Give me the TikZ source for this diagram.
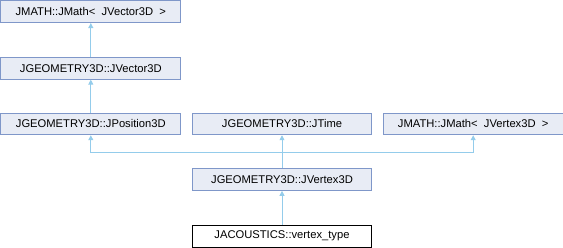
\documentclass[tikz,border=0pt]{standalone}
\usepackage{fontspec}
\setmainfont{Liberation Sans}
\usetikzlibrary{positioning, arrows.meta}
\definecolor{boxFill}{HTML}{E8ECF5}
\definecolor{boxLine}{HTML}{7F97C9}
\definecolor{edgeBlue}{HTML}{94CCEB}

\begin{document}
\begin{tikzpicture}[x=1pt, y=1pt,
      cls/.style={draw=boxLine, fill=boxFill, minimum width=179.8pt, minimum height=21.7pt,
                  inner sep=0pt, line width=0.9pt, font=\fontsize{11.2}{13}\selectfont},
      self/.style={cls, draw=black, fill=white},
      arr/.style={{Triangle[length=5pt, width=5pt]}-, edgeBlue, line width=0.9pt}]
    \useasboundingbox (0,0) rectangle (563,-248);
    \node[cls, anchor=north west] (mvec) at (0.45,-0.45) {JMATH::JMath<~ JVector3D~ >};
    \node[cls, below=34pt of mvec] (vec) {JGEOMETRY3D::JVector3D};
    \node[cls, below=33pt of vec] (pos) {JGEOMETRY3D::JPosition3D};
    \node[cls, right=10.5pt of pos] (time) {JGEOMETRY3D::JTime};
    \node[cls, right=10.5pt of time] (mvtx) {JMATH::JMath<~ JVertex3D~ >};
    \node[cls, below=33pt of time] (vtx) {JGEOMETRY3D::JVertex3D};
    \node[self, below=34pt of vtx] (vt) {JACOUSTICS::vertex\_type};
    \draw[arr] (mvec) -- (vec); \draw[arr] (vec) -- (pos);
    \draw[arr] (pos.south) -- ++(0,-17.2) -| (vtx.north);
    \draw[arr] (mvtx.south) -- ++(0,-17.2) -| (vtx.north);
    \draw[arr] (time) -- (vtx); \draw[arr] (vtx) -- (vt);
  \end{tikzpicture}
\end{document}
